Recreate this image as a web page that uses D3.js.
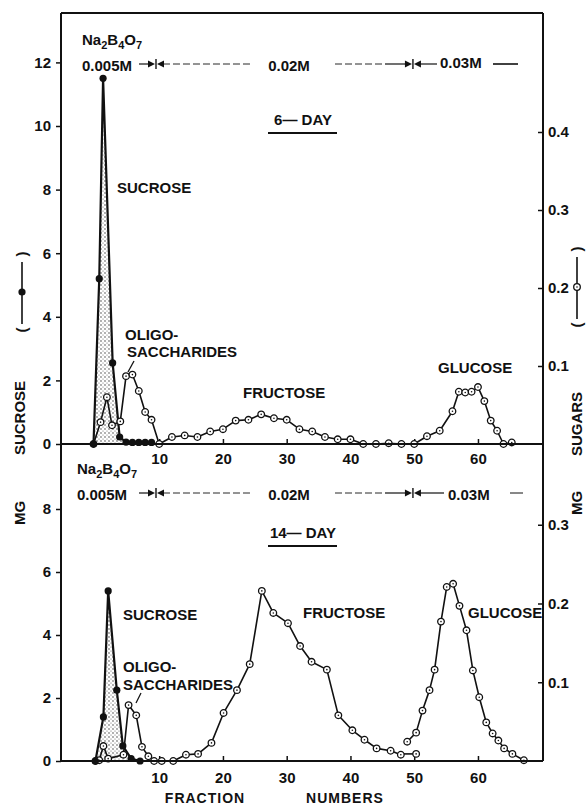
<!DOCTYPE html>
<html>
<head>
<meta charset="utf-8">
<script src="https://cdn.jsdelivr.net/npm/d3@7"></script>
<style>
  body { margin: 0; background: #fff; }
  svg text { font-family: "Liberation Sans", Arial, sans-serif; font-weight: bold; fill: #111; }
</style>
</head>
<body>
<script>

// ---- data (x = fraction number) ----
var fractionTicks = [10, 20, 30, 40, 50, 60];
var topLeftTicks = [0, 2, 4, 6, 8, 10, 12];
var topRightTicks = [0.1, 0.2, 0.3, 0.4];
var botLeftTicks = [0, 2, 4, 6, 8];
var botRightTicks = [0.1, 0.2, 0.3];
var concLabels = ['0.005M', '0.02M', '0.03M'];
var concBreaks = [9.5, 49.8];

// 6-day, sucrose in mg (left axis)
var sucrose6 = [[-0.3, 0], [0.6, 5.2], [1.2, 11.5], [2.7, 2.55], [3.8, 0.22],
  [4.8, 0.06], [5.8, 0.05], [6.8, 0.05], [7.8, 0.05], [8.8, 0.05]];
// 6-day, other sugars in mg (right axis)
var sugars6 = [[-0.3, 0], [0.8, 0.028], [1.8, 0.060], [2.6, 0.024], [3.9, 0.029],
  [4.8, 0.087], [5.8, 0.089], [6.8, 0.068], [7.8, 0.041], [8.8, 0.031], [10, 0],
  [12, 0.009], [14, 0.011], [16, 0.009], [18, 0.016], [20, 0.019], [22, 0.030],
  [24, 0.031], [26, 0.038], [28, 0.033], [30, 0.031], [32, 0.019], [34, 0.016],
  [36, 0.009], [38, 0.006], [40, 0.006], [42, 0], [44, 0], [46, 0.001], [48, 0],
  [50, 0], [52, 0.010], [54, 0.017], [56, 0.042], [57, 0.067], [58, 0.066],
  [59, 0.067], [60, 0.073], [61, 0.055], [62, 0.030], [63, 0.017], [64, 0], [65.3, 0.002]];

// 14-day
var sucrose14 = [[0, 0], [1.25, 1.4], [2.0, 5.4], [3.35, 2.25], [4.3, 0.48], [5.6, 0.08], [7.0, 0]];
var fructose14 = [[0, 0], [0.6, 0.001], [1.25, 0.019], [2.0, 0.003], [4.4, 0.008],
  [5.2, 0.071], [6.4, 0.058], [7.3, 0.018], [8.3, 0.006], [9.2, 0], [10.4, 0],
  [12.2, 0], [14.2, 0.008], [16.1, 0.009], [18.2, 0.023], [20.1, 0.061], [22.2, 0.090],
  [24.2, 0.123], [26.1, 0.216], [27.9, 0.188], [30.2, 0.175], [32.1, 0.146],
  [33.9, 0.126], [36.3, 0.116], [38.1, 0.058], [40.3, 0.039], [42.2, 0.027],
  [44.1, 0.016], [46.3, 0.013], [47.9, 0.008]];
var glucose14 = [[48.9, 0.0245], [50.3, 0.036], [51.3, 0.064], [52.4, 0.090],
  [53.2, 0.116], [54.2, 0.177], [55.1, 0.221], [56.1, 0.225], [57.1, 0.197],
  [58.2, 0.166], [59.2, 0.115], [60.2, 0.081], [61.3, 0.049], [62.3, 0.035],
  [63.2, 0.026], [64.1, 0.016], [65.4, 0.009], [67.2, 0.001]];
var stray14 = [[48.4, 0.009], [50.3, 0.009]];

// ---- layout ----
var W = 588, H = 808;
var XL = 61, XR = 543;
var FONT = '15px';

var svg = d3.select('body').append('svg')
  .attr('width', W).attr('height', H);

svg.append('rect').attr('width', W).attr('height', H).attr('fill', '#fff');

// stipple for the sucrose peaks
var pat = svg.append('defs').append('pattern')
  .attr('id', 'stipple').attr('patternUnits', 'userSpaceOnUse')
  .attr('width', 4).attr('height', 4);
pat.append('circle').attr('cx', 1).attr('cy', 1).attr('r', 0.65).attr('fill', '#222');
pat.append('circle').attr('cx', 3).attr('cy', 3).attr('r', 0.5).attr('fill', '#444');

var x = d3.scaleLinear().domain([-5.4, 70.2]).range([XL, XR]);

// each panel: baseline pixel, top pixel, px per mg (left), px per mg (right)
var panels = [
  { y0: 444, y1: 13, kL: 31.8, kR: 780, leftTicks: topLeftTicks, rightTicks: topRightTicks,
    sucrose: sucrose6, sugars: [sugars6], strays: [], rowY: 64, title: '6\u2014 DAY', titleY: 125,
    pad: 9 },
  { y0: 761, y1: 444, kL: 31.5, kR: 787.5, leftTicks: botLeftTicks, rightTicks: botRightTicks,
    sucrose: sucrose14, sugars: [fructose14, glucose14], strays: [stray14], rowY: 493,
    title: '14\u2014 DAY', titleY: 538, pad: 11 }
];

function drawPanel(p) {
  var yL = d3.scaleLinear().domain([0, (p.y0 - p.y1) / p.kL]).range([p.y0, p.y1]);
  var yR = d3.scaleLinear().domain([0, (p.y0 - p.y1) / p.kR]).range([p.y0, p.y1]);
  var g = svg.append('g');

  // ------------------ axes ------------------
  var ax = g.append('g').attr('transform', 'translate(' + XL + ',0)')
    .call(d3.axisLeft(yL).tickValues(p.leftTicks).tickSize(5).tickPadding(5).tickSizeOuter(0));
  var axr = g.append('g').attr('transform', 'translate(' + XR + ',0)')
    .call(d3.axisRight(yR).tickValues(p.rightTicks).tickSize(-5).tickPadding(5)
      .tickFormat(d3.format('.1f')).tickSizeOuter(0));
  var axb = g.append('g').attr('transform', 'translate(0,' + p.y0 + ')')
    .call(d3.axisBottom(x).tickValues(fractionTicks).tickSize(-5).tickPadding(p.pad).tickSizeOuter(0));
  [ax, axr, axb].forEach(function(a) {
    a.select('.domain').remove();
    a.selectAll('line').attr('stroke', '#111').attr('stroke-width', 1.5);
    a.selectAll('text').style('font-size', FONT).attr('fill', '#111');
  });

  // ------------------ sucrose (stippled) ------------------
  var area = d3.area().x(function(d) { return x(d[0]); })
    .y0(yL(0)).y1(function(d) { return yL(d[1]); });
  var lineL = d3.line().x(function(d) { return x(d[0]); }).y(function(d) { return yL(d[1]); });
  var lineR = d3.line().x(function(d) { return x(d[0]); }).y(function(d) { return yR(d[1]); });

  g.append('path').datum(p.sucrose).attr('d', area).attr('fill', 'url(#stipple)');

  // other sugars, open circles
  p.sugars.concat(p.strays).forEach(function(s) {
    g.append('path').datum(s).attr('d', lineR)
      .attr('fill', 'none').attr('stroke', '#111').attr('stroke-width', 1.6)
      .attr('stroke-linejoin', 'round');
  });

  g.append('path').datum(p.sucrose).attr('d', lineL)
    .attr('fill', 'none').attr('stroke', '#111').attr('stroke-width', 2.2)
    .attr('stroke-linejoin', 'round');

  var open = p.sugars.reduce(function(a, s) { return a.concat(s); }, []);
  p.strays.forEach(function(s) { open.push(s[s.length - 1]); });
  var dots = g.selectAll('.open').data(open).enter().append('g')
    .attr('transform', function(d) { return 'translate(' + x(d[0]) + ',' + yR(d[1]) + ')'; });
  dots.append('circle').attr('r', 3.3).attr('fill', '#fff').attr('stroke', '#111').attr('stroke-width', 1.3);
  dots.append('circle').attr('r', 0.8).attr('fill', '#111');

  g.selectAll('.filled').data(p.sucrose).enter().append('circle')
    .attr('cx', function(d) { return x(d[0]); })
    .attr('cy', function(d) { return yL(d[1]); })
    .attr('r', 3.6).attr('fill', '#111');

  // ------------------ borate gradient ------------------
  var ry = p.rowY;
  var na = g.append('text').attr('x', p === panels[0] ? 82 : 77).attr('y', ry - 19).style('font-size', FONT);
  [['Na', 0], ['2', 1], ['B', 0], ['4', 1], ['O', 0], ['7', 1]].forEach(function(t) {
    na.append('tspan').text(t[0])
      .attr('dy', t[1] ? 4 : (t[0] === 'Na' ? 0 : -4))
      .style('font-size', t[1] ? '11px' : FONT);
  });
  g.append('text').attr('x', p === panels[0] ? 82 : 77).attr('y', ry + 7)
    .style('font-size', FONT).text(concLabels[0]);
  g.append('text').attr('x', 289).attr('y', ry + 7).attr('text-anchor', 'middle')
    .style('font-size', FONT).text(concLabels[1]);
  g.append('text').attr('x', p === panels[0] ? 440 : 448).attr('y', ry + (p === panels[0] ? 4 : 7))
    .style('font-size', FONT).text(concLabels[2]);

  var b1 = x(concBreaks[0]), b2 = x(concBreaks[1]);
  function seg(x1, x2, dash, w) {
    g.append('line').attr('x1', x1).attr('x2', x2).attr('y1', ry).attr('y2', ry)
      .attr('stroke', '#111').attr('stroke-width', w || 1.2)
      .attr('stroke-dasharray', dash || null);
  }
  function stop(bx) {
    g.append('line').attr('x1', bx).attr('x2', bx).attr('y1', ry - 5).attr('y2', ry + 5)
      .attr('stroke', '#111').attr('stroke-width', 1.4);
    g.append('path').attr('d', 'M' + (bx - 1) + ',' + ry + 'l-7,-3.5v7z').attr('fill', '#111');
    g.append('path').attr('d', 'M' + (bx + 1) + ',' + ry + 'l7,-3.5v7z').attr('fill', '#111');
  }
  seg(139, b1 - 7);
  stop(b1);
  seg(b1 + 7, 250, '7,3', 0.9);
  seg(335, 385, '7,3', 0.9);
  seg(385, b2 - 7);
  stop(b2);
  seg(b2 + 7, p === panels[0] ? 437 : 444);
  if (p === panels[0]) seg(493, 518, null, 1.6); else seg(510, 523, null, 1);

  // ------------------ titles and peak labels ------------------
  g.append('text').attr('x', 303).attr('y', p.titleY).attr('text-anchor', 'middle')
    .style('font-size', FONT).text(p.title);
  g.append('line').attr('x1', 268).attr('x2', 337)
    .attr('y1', p.titleY + 8).attr('y2', p.titleY + 8)
    .attr('stroke', '#111').attr('stroke-width', 1.8);
}

panels.forEach(drawPanel);

// peak names
var peakNames = ['SUCROSE', 'OLIGO-', 'SACCHARIDES', 'FRUCTOSE', 'GLUCOSE'];
var labelAt = [
  [[117, 193], [125, 340], [127, 357], [243, 398], [438, 373]],
  [[123, 620], [123, 672], [123, 690], [303, 618], [468, 618]]
];
labelAt.forEach(function(set) {
  svg.selectAll(null).data(set).enter().append('text')
    .attr('x', function(d) { return d[0]; }).attr('y', function(d) { return d[1]; })
    .style('font-size', FONT)
    .text(function(d, i) { return peakNames[i]; });
});
svg.append('line').attr('x1', 134).attr('y1', 361).attr('x2', 128).attr('y2', 372)
  .attr('stroke', '#111').attr('stroke-width', 1.3);
svg.append('line').attr('x1', 141).attr('y1', 693).attr('x2', 136).attr('y2', 703)
  .attr('stroke', '#111').attr('stroke-width', 1.3);

// ------------------ frame ------------------
var frame = [[XL, 13, XL, 761], [XR, 13, XR, 761], [XL, 13, XR, 13], [XL, 444, XR, 444], [XL, 761, XR, 761]];
svg.selectAll('.frame').data(frame).enter().append('line')
  .attr('x1', function(d) { return d[0]; }).attr('y1', function(d) { return d[1]; })
  .attr('x2', function(d) { return d[2]; }).attr('y2', function(d) { return d[3]; })
  .attr('stroke', '#111').attr('stroke-width', 2);

// ------------------ axis titles ------------------
svg.append('text').attr('x', 205).attr('y', 803).attr('text-anchor', 'middle')
  .style('font-size', '14px').style('letter-spacing', '1px').text('FRACTION');
svg.append('text').attr('x', 345).attr('y', 803).attr('text-anchor', 'middle')
  .style('font-size', '14px').style('letter-spacing', '1px').text('NUMBERS');

function vtext(tx, ty, s, size) {
  svg.append('text').attr('transform', 'translate(' + tx + ',' + ty + ') rotate(-90)')
    .attr('text-anchor', 'middle').attr('dy', '0.36em')
    .style('font-size', size || FONT).text(s);
}
vtext(20, 418, 'SUCROSE');
vtext(20, 513, 'MG');
vtext(577, 424, 'SUGARS');
vtext(577, 503, 'MG');

// legend keys beside the axis titles
function key(kx, ky, filled) {
  vtext(kx, ky - 38, ')', '15px');
  vtext(kx, ky + 38, '(', '15px');
  svg.append('line').attr('x1', kx).attr('x2', kx).attr('y1', ky - 30).attr('y2', ky + 32)
    .attr('stroke', '#111').attr('stroke-width', 1.6);
  if (filled) {
    svg.append('circle').attr('cx', kx).attr('cy', ky).attr('r', 3.6).attr('fill', '#111');
  } else {
    svg.append('circle').attr('cx', kx).attr('cy', ky).attr('r', 3.3)
      .attr('fill', '#fff').attr('stroke', '#111').attr('stroke-width', 1.3);
    svg.append('circle').attr('cx', kx).attr('cy', ky).attr('r', 0.8).attr('fill', '#111');
  }
}
key(22, 292, true);
key(577, 287, false);

</script>
</body>
</html>
